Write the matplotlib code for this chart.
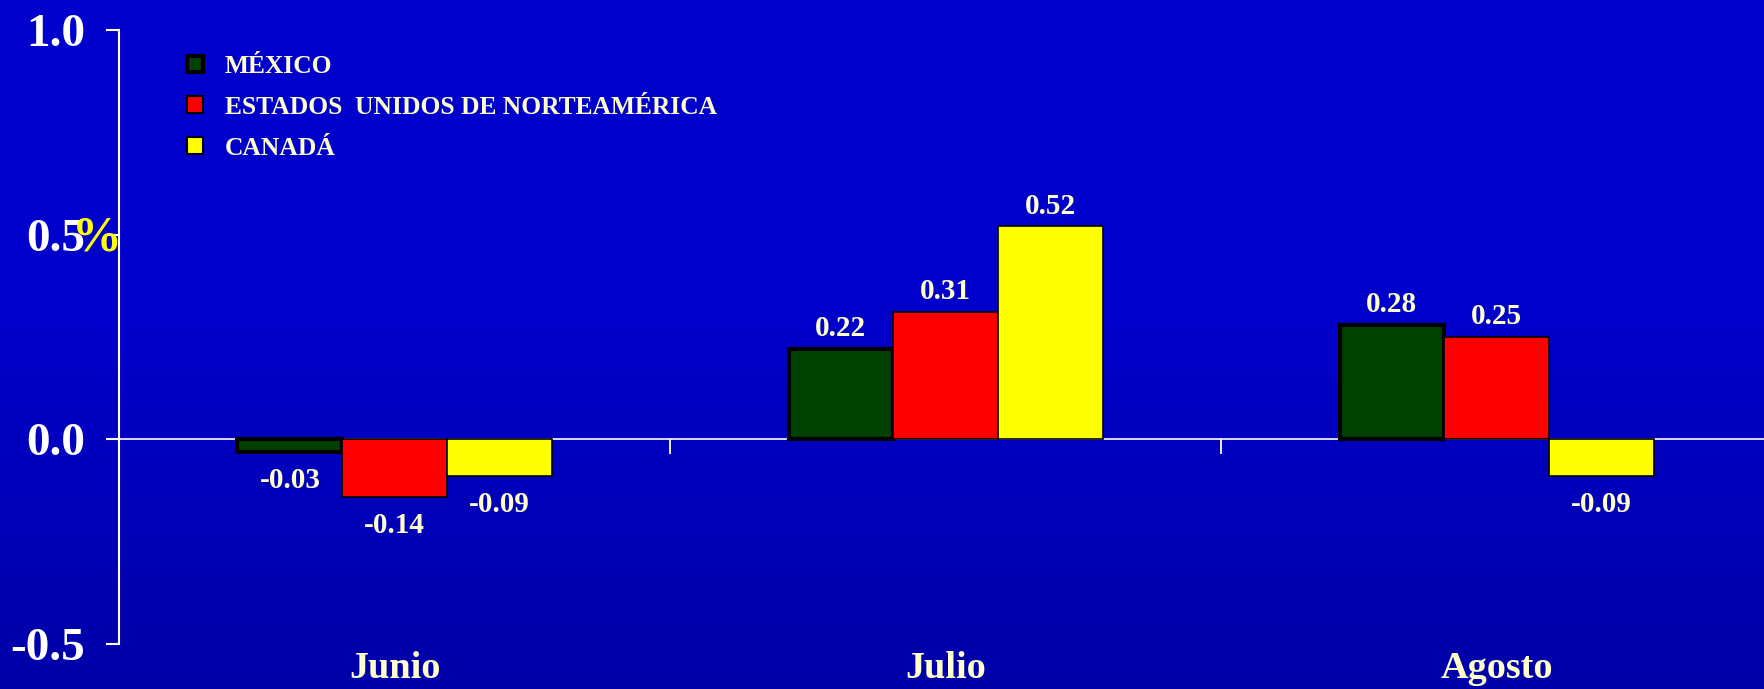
import matplotlib
matplotlib.use('Agg')
import matplotlib.pyplot as plt
import numpy as np
from matplotlib.patches import Patch

plt.rcParams['font.family'] = ['Liberation Serif', 'DejaVu Serif']
plt.rcParams['font.weight'] = 'bold'

# Data
months = ['Junio', 'Julio', 'Agosto']
countries = ['MÉXICO', 'ESTADOS  UNIDOS DE NORTEAMÉRICA', 'CANADÁ']
mexico = [-0.03, 0.22, 0.28]
usa = [-0.14, 0.31, 0.25]
canada = [-0.09, 0.52, -0.09]
yticks = [-0.5, 0.0, 0.5, 1.0]
ytick_labels = ['-0.5', '0.0', '0.5', '1.0']

series = [mexico, usa, canada]
colors = ['#004000', '#FF0000', '#FFFF00']
edge_widths = [3.0, 1.2, 1.2]
cream = '#FFFFCC'

fig = plt.figure(figsize=(17.65, 6.89), dpi=100)

# Background gradient (slightly darker towards the bottom)
bg = fig.add_axes([0, 0, 1, 1], zorder=-1)
t = np.linspace(0, 1, 256)
blue = np.where(t < 0.45, 204, 204 - (t - 0.45) / 0.55 * 36)
grad = np.zeros((256, 1, 3))
grad[:, 0, 2] = blue / 255
bg.imshow(grad, aspect='auto', extent=[0, 1, 0, 1])
bg.axis('off')

ax = fig.add_axes([119 / 1765, 45 / 689, 1646 / 1765, 614 / 689])
ax.set_facecolor('none')

x = np.arange(len(months)) + 0.5
width = 0.19
for i, (vals, c, lw) in enumerate(zip(series, colors, edge_widths)):
    pos = x + (i - 1) * width
    ax.bar(pos, vals, width, color=c, edgecolor='black', linewidth=lw, zorder=2)
    for px, v in zip(pos, vals):
        off = 5 if v >= 0 else -11
        ax.annotate(f'{v:.2f}', (px, v), xytext=(0, off), textcoords='offset points',
                    ha='center', va='bottom' if v >= 0 else 'top',
                    fontsize=21, fontweight='bold', color=cream, zorder=3)

ax.set_xlim(0, 2.987)
ax.set_ylim(-0.5, 1.0)

# zero line and separators between months
ax.axhline(0, color='white', linewidth=1.2, zorder=1)
ax.plot(np.arange(1, len(months)), np.zeros(len(months) - 1), ls='none',
        marker=3, markersize=11, mew=1.3, color=cream, zorder=1)

for s in ['top', 'right', 'bottom']:
    ax.spines[s].set_visible(False)
ax.spines['left'].set_color('white')
ax.spines['left'].set_linewidth(1.5)

ax.set_yticks(yticks)
ax.set_yticklabels(ytick_labels, fontsize=34, fontweight='bold', color='white')
ax.tick_params(axis='y', direction='out', length=9.5, width=1.5, color='white', pad=15)

ax.set_xticks(x)
ax.set_xticklabels(months, fontsize=27.5, fontweight='bold', color=cream)
ax.tick_params(axis='x', length=0, pad=5)

ax.text(-0.0135, 0.49, '%', transform=ax.get_yaxis_transform(), ha='center', va='center',
        fontsize=36, fontweight='bold', color='#FFFF00', zorder=4)

handles = [Patch(facecolor=c, edgecolor='black', linewidth=lw)
           for c, lw in zip(colors, [3.0, 1.5, 1.5])]
leg = ax.legend(handles, countries, loc='upper left', bbox_to_anchor=(0.0413, 0.9595),
                frameon=False, fontsize=18.4, handlelength=0.62, handleheight=0.62,
                handletextpad=0.85, labelspacing=0.7, borderpad=0, borderaxespad=0)
for txt in leg.get_texts():
    txt.set_color(cream)
    txt.set_fontweight('bold')

fig.savefig('out.png', dpi=100)
